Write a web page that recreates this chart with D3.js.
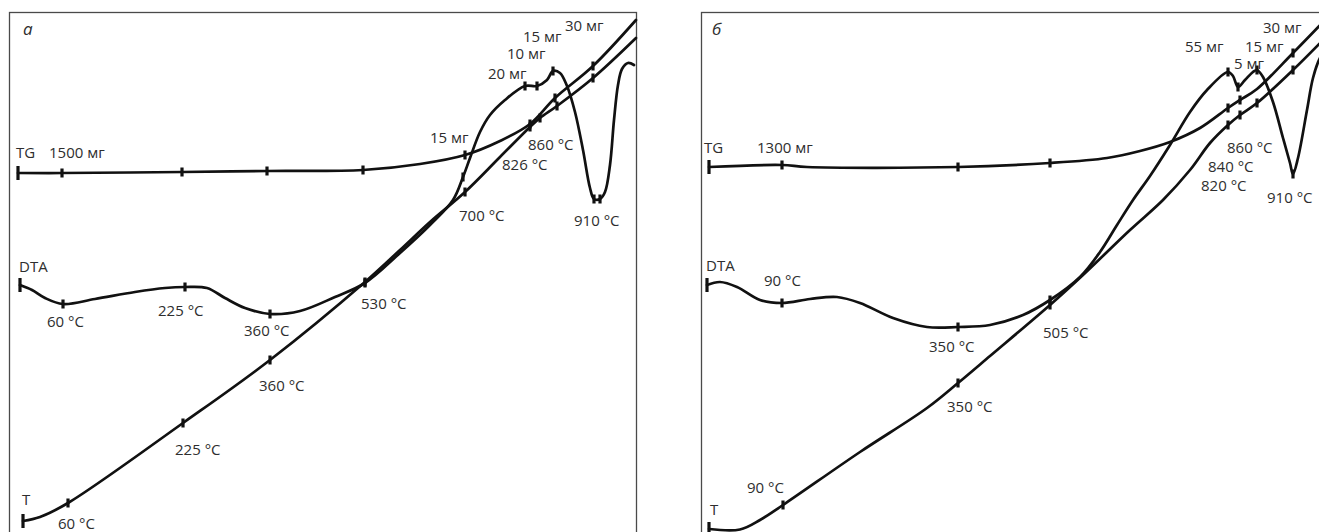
<!DOCTYPE html>
<html>
<head>
<meta charset="utf-8">
<script src="https://cdn.jsdelivr.net/npm/d3@7"></script>
<style>
  html, body { margin: 0; padding: 0; background: #fff; }
  svg { display: block; }
  .frame { fill: none; stroke: #4a4a4a; stroke-width: 1.3; }
  .curve { fill: none; stroke: #111; stroke-width: 2.7; stroke-linejoin: round; stroke-linecap: round; }
  .mark { stroke: #111; stroke-width: 3.2; }
  .label { font-family: "Open Sans", sans-serif; font-size: 15px; fill: #2e2e2e; }
  .panel-name { font-style: italic; font-size: 17px; }
</style>
</head>
<body>
<div id="chart"></div>
<script>
// Chart units: x 0..125.4, y 0..104 inside each panel.
// Third field of a point: 1 = tick mark, 2 = start mark.

// panel а
const tgA = [
  [1.8, 71.8, 2], [10.6, 71.8, 1], [34.6, 72.0, 1], [51.6, 72.2, 1], [70.8, 72.4, 1],
  [82.2, 73.6], [91.2, 75.4, 1], [98.2, 78.2], [104.2, 81.6, 1], [109.2, 86.8, 1],
  [116.8, 93.2, 1], [125.4, 102.4]
];
const dtaA = [
  [2.2, 49.4, 2], [4.6, 48.4], [7.2, 46.8], [10.8, 45.6, 1], [17.2, 46.6], [25.2, 48.0],
  [31.2, 48.8], [35.2, 49.0, 1], [39.6, 48.8], [43.2, 46.8], [47.2, 44.8], [52.2, 43.6, 1],
  [58.2, 44.2], [65.2, 47.0], [71.2, 49.8, 1], [78.2, 55.8], [84.2, 61.4], [88.8, 66.4],
  [90.8, 71.0, 1], [92.2, 74.8], [94.2, 80.0], [96.2, 83.4], [99.2, 86.4], [103.2, 89.2, 1],
  [105.6, 89.2, 1], [107.6, 90.4], [108.8, 92.2, 1], [110.2, 91.8], [111.6, 89.2],
  [113.2, 84.0], [114.8, 76.4], [116.2, 68.8], [117.0, 66.6, 1], [118.2, 66.6, 1],
  [119.2, 68.0], [120.2, 73.4], [121.0, 82.4], [121.8, 89.4], [122.6, 92.6], [123.8, 93.8],
  [125.0, 93.4]
];
const tA = [
  [2.8, 2.2, 2], [6.2, 3.0], [11.8, 5.8, 1], [34.8, 21.8, 1], [52.2, 34.4, 1], [71.2, 50.0, 1],
  [78.2, 56.4], [84.2, 62.0], [91.2, 68.0, 1], [98.2, 75.0], [104.2, 81.0, 1],
  [106.2, 82.8, 1], [109.6, 85.2, 1], [116.8, 90.8, 1], [125.4, 98.8]
];
const labelsA = [
  [1.4, 74.8, 'TG'], [8.0, 74.8, '1500 мг'], [84.2, 77.8, '15 мг'], [95.8, 90.6, '20 мг'],
  [99.6, 94.6, '10 мг'], [102.8, 98.0, '15 мг'], [111.2, 100.2, '30 мг'],
  [103.8, 76.4, '860 °C'], [98.6, 72.4, '826 °C'], [90.0, 62.2, '700 °C'],
  [113.0, 61.2, '910 °C'], [70.4, 44.6, '530 °C'], [2.0, 52.0, 'DTA'], [7.6, 41.0, '60 °C'],
  [29.8, 43.2, '225 °C'], [47.0, 39.2, '360 °C'], [50.0, 28.2, '360 °C'],
  [33.2, 15.4, '225 °C'], [2.6, 5.4, 'T'], [9.8, 0.6, '60 °C']
];

// panel б
const tgB = [
  [1.6, 73.0, 2], [16.2, 73.4, 1], [21.2, 73.0], [51.4, 73.0, 1], [69.8, 73.8, 1],
  [81.2, 74.8], [87.8, 76.2], [93.8, 78.0], [99.8, 80.8], [105.4, 84.8, 1], [107.8, 86.4, 1],
  [111.2, 88.6], [118.4, 95.8, 1], [124.8, 102.4]
];
const dtaB = [
  [1.2, 49.4, 2], [3.8, 50.0], [7.2, 49.0], [11.8, 46.4], [16.2, 45.8, 1], [21.8, 46.6],
  [27.2, 47.0], [31.8, 45.8], [38.4, 42.8], [45.2, 41.0], [51.4, 41.0, 1], [57.8, 41.4],
  [64.4, 43.4], [69.8, 46.4, 1], [75.8, 51.0], [79.8, 56.0], [83.2, 61.4], [86.4, 66.4],
  [89.8, 71.2], [93.8, 77.4], [97.8, 84.0], [101.2, 88.4], [105.4, 92.0, 1], [106.4, 91.2],
  [107.4, 89.0, 1], [108.8, 90.4], [110.4, 92.0], [111.2, 92.4, 1], [112.4, 91.0],
  [114.4, 86.0], [116.4, 78.8], [117.8, 73.8], [118.4, 71.6, 1], [119.4, 74.8],
  [121.2, 84.4], [122.4, 90.8], [123.8, 94.8], [125.0, 96.4]
];
const tB = [
  [1.6, 0.6, 2], [7.8, 0.5], [11.8, 2.4], [16.4, 5.4, 1], [31.8, 16.0], [45.2, 24.8],
  [51.4, 29.8, 1], [57.8, 35.2], [69.8, 45.4, 1], [76.4, 51.4], [85.8, 60.4], [92.4, 66.4],
  [97.8, 72.4], [101.8, 77.8], [105.4, 81.4, 1], [107.8, 83.4, 1], [111.2, 85.8, 1],
  [118.4, 92.4, 1], [124.8, 98.8]
];
const labelsB = [
  [0.6, 75.8, 'TG'], [11.2, 75.8, '1300 мг'], [1.0, 52.2, 'DTA'], [12.6, 49.2, '90 °C'],
  [45.6, 36.0, '350 °C'], [68.4, 38.8, '505 °C'], [49.2, 24.0, '350 °C'],
  [9.2, 7.8, '90 °C'], [1.8, 3.4, 'T'], [96.8, 96.0, '55 мг'], [108.8, 96.0, '15 мг'],
  [106.6, 92.6, '5 мг'], [112.4, 99.8, '30 мг'], [105.2, 75.8, '860 °C'],
  [101.4, 72.0, '840 °C'], [100.0, 68.2, '820 °C'], [113.2, 65.8, '910 °C']
];

const panelNames = ['а', 'б'];

const dimensions = { width: 1319, height: 532 };
const panelBox = { top: 12, width: 627, height: 520 };
const panelLefts = [9, 701];
const tickLength = 9;
const startLength = 14;

const svg = d3.select('#chart')
  .append('svg')
  .attr('width', dimensions.width)
  .attr('height', dimensions.height);

const panels = [
  { curves: [tgA, dtaA, tA], labels: labelsA },
  { curves: [tgB, dtaB, tB], labels: labelsB }
];

panels.forEach((panel, i) => {
  const left = panelLefts[i];
  const x = d3.scaleLinear().domain([0, 125.4]).range([left, left + panelBox.width]);
  const y = d3.scaleLinear().domain([0, 104]).range([panelBox.top + panelBox.height, panelBox.top]);

  const g = svg.append('g').attr('class', 'panel');

  // frame, bottom edge runs past the picture
  g.append('rect')
    .attr('class', 'frame')
    .attr('x', left + 0.5)
    .attr('y', panelBox.top + 0.5)
    .attr('width', panelBox.width)
    .attr('height', panelBox.height + 20);

  const line = d3.line()
    .x(d => x(d[0]))
    .y(d => y(d[1]))
    .curve(d3.curveCatmullRom.alpha(0.5));

  g.selectAll('.curve')
    .data(panel.curves)
    .join('path')
    .attr('class', 'curve')
    .attr('d', line);

  const marks = panel.curves.flatMap(c => c.filter(d => d[2]));
  g.selectAll('.mark')
    .data(marks)
    .join('line')
    .attr('class', 'mark')
    .attr('x1', d => x(d[0]))
    .attr('x2', d => x(d[0]))
    .attr('y1', d => y(d[1]) - (d[2] === 2 ? startLength : tickLength) / 2)
    .attr('y2', d => y(d[1]) + (d[2] === 2 ? startLength : tickLength) / 2);

  g.selectAll('.label')
    .data(panel.labels)
    .join('text')
    .attr('class', 'label')
    .attr('x', d => x(d[0]))
    .attr('y', d => y(d[1]))
    .text(d => d[2]);

  g.append('text')
    .attr('class', 'label panel-name')
    .attr('x', x(i === 0 ? 2.8 : 2.2))
    .attr('y', y(99.4))
    .text(panelNames[i]);
});
</script>
</body>
</html>
